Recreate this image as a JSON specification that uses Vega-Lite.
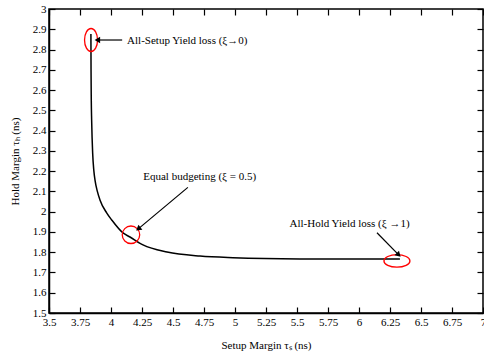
{
  "$schema": "https://vega.github.io/schema/vega-lite/v6.json",
  "width": 434,
  "height": 304,
  "autosize": {"type": "none"},
  "padding": {"left": 49, "top": 9, "right": 1, "bottom": 45},
  "background": "white",
  "config": {
    "view": {"stroke": "black", "strokeWidth": 1.5},
    "axis": {
      "labelFont": "Liberation Serif",
      "labelFontSize": 11,
      "labelColor": "black",
      "titleFont": "Liberation Serif",
      "titleFontSize": 11,
      "titleFontWeight": "normal",
      "titleColor": "black",
      "domainColor": "black",
      "domainWidth": 1.5,
      "tickColor": "black",
      "tickWidth": 1.2,
      "tickSize": -6,
      "grid": false,
      "labelOverlap": false,
      "labelFlush": false
    }
  },
  "datasets": {
    "curve": [
      {"ts": 3.838, "th": 2.877},
      {"ts": 3.839, "th": 2.7},
      {"ts": 3.841, "th": 2.55},
      {"ts": 3.844, "th": 2.45},
      {"ts": 3.852, "th": 2.29},
      {"ts": 3.862, "th": 2.2},
      {"ts": 3.871, "th": 2.156},
      {"ts": 3.89, "th": 2.1},
      {"ts": 3.911, "th": 2.058},
      {"ts": 3.965, "th": 1.994},
      {"ts": 4.006, "th": 1.959},
      {"ts": 4.097, "th": 1.895},
      {"ts": 4.153, "th": 1.875},
      {"ts": 4.258, "th": 1.836},
      {"ts": 4.452, "th": 1.801},
      {"ts": 4.718, "th": 1.781},
      {"ts": 4.984, "th": 1.773},
      {"ts": 5.524, "th": 1.767},
      {"ts": 6.33, "th": 1.766}
    ],
    "labels": [
      {"ts": 4.13, "th": 2.84, "text": "All-Setup Yield loss (ξ→0)"},
      {"ts": 4.26, "th": 2.17, "text": "Equal budgeting  (ξ = 0.5)"},
      {"ts": 5.44, "th": 1.94, "text": "All-Hold Yield loss (ξ →1)"}
    ],
    "arrows": [
      {"ts": 4.09, "th": 2.847, "ts2": 3.89, "th2": 2.847, "dir": "a"},
      {"ts": 4.62, "th": 2.12, "ts2": 4.22, "th2": 1.915, "dir": "b"},
      {"ts": 6.145, "th": 1.896, "ts2": 6.32, "th2": 1.787, "dir": "c"}
    ]
  },
  "layer": [
    {
      "data": {"name": "curve"},
      "mark": {"type": "line", "color": "black", "strokeWidth": 1.5, "interpolate": "monotone"},
      "encoding": {
        "x": {"field": "ts", "type": "quantitative", "scale": {"domain": [3.5, 7], "nice": false, "zero": false},
          "axis": {"values": [3.5, 3.75, 4, 4.25, 4.5, 4.75, 5, 5.25, 5.5, 5.75, 6, 6.25, 6.5, 6.75, 7], "format": ".3~g", "title": "Setup Margin τₛ (ns)", "labelPadding": 9, "titlePadding": 12}},
        "y": {"field": "th", "type": "quantitative", "scale": {"domain": [1.5, 3], "nice": false, "zero": false},
          "axis": {"values": [1.5, 1.6, 1.7, 1.8, 1.9, 2, 2.1, 2.2, 2.3, 2.4, 2.5, 2.6, 2.7, 2.8, 2.9, 3], "format": ".2~g", "title": "Hold Margin τₕ (ns)", "labelPadding": 9, "titlePadding": 12}},
        "order": {"field": "ts", "type": "quantitative"}
      }
    },
    {
      "data": {"values": [{"ts": 3.839, "th": 2.847}]},
      "mark": {"type": "point", "shape": "M -0.565 0 A 0.565 1 0 1 0 0.565 0 A 0.565 1 0 1 0 -0.565 0 Z", "size": 529, "stroke": "red", "strokeWidth": 1.3, "fill": null, "opacity": 1},
      "encoding": {
        "x": {"field": "ts", "type": "quantitative", "axis": {"orient": "top", "values": [3.5, 3.75, 4, 4.25, 4.5, 4.75, 5, 5.25, 5.5, 5.75, 6, 6.25, 6.5, 6.75, 7], "labels": false, "title": null, "domain": false}},
        "y": {"field": "th", "type": "quantitative", "axis": {"orient": "right", "values": [1.5, 1.6, 1.7, 1.8, 1.9, 2, 2.1, 2.2, 2.3, 2.4, 2.5, 2.6, 2.7, 2.8, 2.9, 3], "labels": false, "title": null, "domain": false}}
      }
    },
    {
      "data": {"values": [{"ts": 4.161, "th": 1.886}]},
      "mark": {"type": "point", "shape": "circle", "size": 306, "stroke": "red", "strokeWidth": 1.3, "fill": null, "opacity": 1},
      "encoding": {
        "x": {"field": "ts", "type": "quantitative", "axis": null},
        "y": {"field": "th", "type": "quantitative", "axis": null}
      }
    },
    {
      "data": {"values": [{"ts": 6.306, "th": 1.757}]},
      "mark": {"type": "point", "shape": "M -1 0 A 1 0.48 0 1 0 1 0 A 1 0.48 0 1 0 -1 0 Z", "size": 676, "stroke": "red", "strokeWidth": 1.3, "fill": null, "opacity": 1},
      "encoding": {
        "x": {"field": "ts", "type": "quantitative", "axis": null},
        "y": {"field": "th", "type": "quantitative", "axis": null}
      }
    },
    {
      "data": {"name": "arrows"},
      "mark": {"type": "rule", "color": "black", "strokeWidth": 1.2},
      "encoding": {
        "x": {"field": "ts", "type": "quantitative", "axis": null},
        "y": {"field": "th", "type": "quantitative", "axis": null},
        "x2": {"field": "ts2"},
        "y2": {"field": "th2"}
      }
    },
    {
      "data": {"name": "arrows"},
      "transform": [{"filter": "datum.dir == 'a'"}],
      "mark": {"type": "point", "shape": "triangle-left", "size": 40, "filled": true, "color": "black", "opacity": 1},
      "encoding": {
        "x": {"field": "ts2", "type": "quantitative", "axis": null},
        "y": {"field": "th2", "type": "quantitative", "axis": null}
      }
    },
    {
      "data": {"name": "arrows"},
      "transform": [{"filter": "datum.dir == 'b'"}],
      "mark": {"type": "point", "shape": "triangle-up", "angle": 231, "size": 40, "filled": true, "color": "black", "opacity": 1},
      "encoding": {
        "x": {"field": "ts2", "type": "quantitative", "axis": null},
        "y": {"field": "th2", "type": "quantitative", "axis": null}
      }
    },
    {
      "data": {"name": "arrows"},
      "transform": [{"filter": "datum.dir == 'c'"}],
      "mark": {"type": "point", "shape": "triangle-up", "angle": 135, "size": 40, "filled": true, "color": "black", "opacity": 1},
      "encoding": {
        "x": {"field": "ts2", "type": "quantitative", "axis": null},
        "y": {"field": "th2", "type": "quantitative", "axis": null}
      }
    },
    {
      "data": {"name": "labels"},
      "mark": {"type": "text", "align": "left", "baseline": "middle", "font": "Liberation Serif", "fontSize": 11, "color": "black"},
      "encoding": {
        "x": {"field": "ts", "type": "quantitative", "axis": null},
        "y": {"field": "th", "type": "quantitative", "axis": null},
        "text": {"field": "text"}
      }
    }
  ],
  "resolve": {"axis": {"x": "independent", "y": "independent"}}
}
